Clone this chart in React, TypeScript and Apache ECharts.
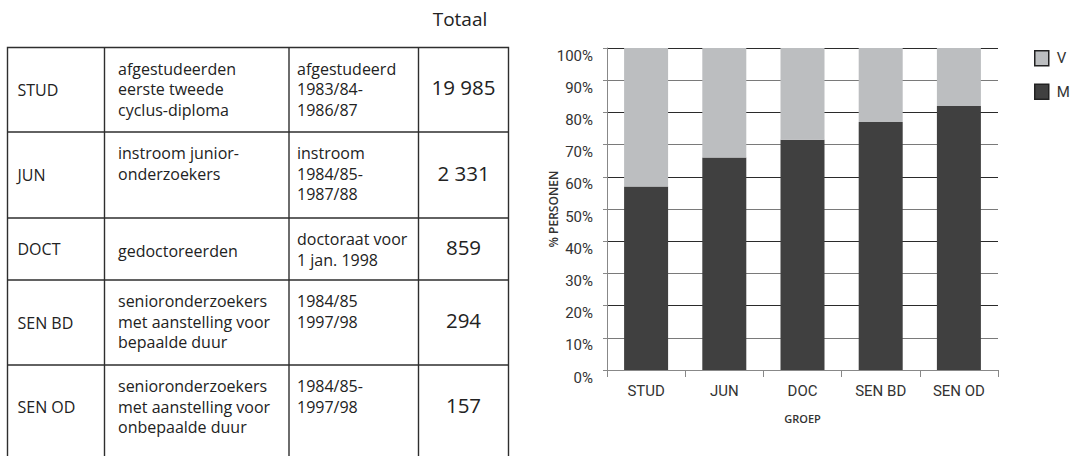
import React, { useEffect, useRef } from "react";
import * as echarts from "echarts";

// ---- Table data ----
const groupCodes = ["STUD", "JUN", "DOCT", "SEN BD", "SEN OD"];
const groupDescriptions = [
  ["afgestudeerden", "eerste tweede", "cyclus-diploma"],
  ["instroom junior-", "onderzoekers"],
  ["gedoctoreerden"],
  ["senioronderzoekers", "met aanstelling voor", "bepaalde duur"],
  ["senioronderzoekers", "met aanstelling voor", "onbepaalde duur"],
];
const groupPeriods = [
  ["afgestudeerd", "1983/84-", "1986/87"],
  ["instroom", "1984/85-", "1987/88"],
  ["doctoraat voor", "1 jan. 1998"],
  ["1984/85", "1997/98"],
  ["1984/85-", "1997/98"],
];
const groupTotals = ["19 985", "2 331", "859", "294", "157"];
const totalHeader = "Totaal";

// ---- Chart data ----
const chartCategories = ["STUD", "JUN", "DOC", "SEN BD", "SEN OD"];
const menShare = [57, 66, 71.5, 77, 82];
const womenShare = [43, 34, 28.5, 23, 18];
const seriesNames = ["V", "M"];
const yAxisTitle = "% PERSONEN";
const xAxisTitle = "GROEP";

// ---- Layout ----
const COL_X = [7.5, 104.5, 289, 418.5, 508.5];
const TABLE_TOP = 47.5;
const ROW_H = [84.5, 86, 62, 85, 84];
const TEXT_FONT = "'Open Sans', 'Noto Sans', sans-serif";
const NARROW_FONT = "Roboto, 'Noto Sans', sans-serif";
const LINE_H = 20.6;
const BORDER = "#2e2e2e";

function buildTable() {
  const els: any[] = [];
  const rowTops: number[] = [];
  let y = TABLE_TOP;
  ROW_H.forEach((h) => {
    rowTops.push(y);
    y += h;
  });
  const tableBottom = 470;
  els.push({
    type: "rect",
    shape: { x: COL_X[0], y: TABLE_TOP, width: COL_X[4] - COL_X[0], height: tableBottom - TABLE_TOP },
    style: { fill: "none", stroke: BORDER, lineWidth: 1.4 },
    silent: true,
  });
  for (let c = 1; c < 4; c++) {
    els.push({
      type: "line",
      shape: { x1: COL_X[c], y1: TABLE_TOP, x2: COL_X[c], y2: tableBottom },
      style: { stroke: BORDER, lineWidth: 1.4 },
      silent: true,
    });
  }
  for (let r = 1; r < rowTops.length; r++) {
    els.push({
      type: "line",
      shape: { x1: COL_X[0], y1: rowTops[r], x2: COL_X[4], y2: rowTops[r] },
      style: { stroke: BORDER, lineWidth: 1.4 },
      silent: true,
    });
  }
  const textEl = (text: string, x: number, yy: number, size: number, align = "left") => ({
    type: "text",
    x,
    y: yy,
    silent: true,
    style: {
      text,
      fill: "#222",
      fontFamily: TEXT_FONT,
      fontSize: size,
      align,
      verticalAlign: "middle",
    },
  });
  const cellLines = (lines: string[], x: number, r: number) => {
    const top = rowTops[r];
    const mid = top + ROW_H[r] / 2;
    if (lines.length === 1) {
      els.push(textEl(lines[0], x, mid + 2, 16));
    } else {
      lines.forEach((ln, i) => els.push(textEl(ln, x, top + 21 + i * LINE_H, 16)));
    }
  };
  groupCodes.forEach((code, r) => {
    const mid = rowTops[r] + ROW_H[r] / 2;
    els.push(textEl(code, 17.5, mid, 16));
    cellLines(groupDescriptions[r], 118, r);
    cellLines(groupPeriods[r], 297, r);
    els.push(textEl(groupTotals[r], (COL_X[3] + COL_X[4]) / 2, mid - 2.5, 20.5, "center"));
  });
  els.push(textEl(totalHeader, 460, 18.5, 19, "center"));
  return els;
}

export default function App() {
  const ref = useRef<HTMLDivElement>(null);
  useEffect(() => {
    if (!ref.current) return;
    const chart = echarts.init(ref.current, null, { renderer: "svg" });
    chart.setOption({
      animation: false,
      backgroundColor: "#ffffff",
      grid: { left: 607, right: 79, top: 48, bottom: 86, containLabel: false },
      legend: {
        data: seriesNames,
        orient: "vertical",
        left: 1029,
        top: 45,
        icon: "rect",
        itemWidth: 14,
        itemHeight: 15,
        itemGap: 17,
        itemStyle: { borderColor: "#222", borderWidth: 1.5 },
        textStyle: { fontFamily: NARROW_FONT, fontSize: 15, color: "#333", padding: [0, 0, 0, 3] },
      },
      xAxis: {
        type: "category",
        data: chartCategories,
        axisLine: { show: true, lineStyle: { color: "#888", width: 1 } },
        axisTick: { show: true, length: 7, lineStyle: { color: "#888" } },
        axisLabel: { fontFamily: NARROW_FONT, fontSize: 15, color: "#333", margin: 13 },
        name: xAxisTitle,
        nameLocation: "middle",
        nameGap: 43,
        nameMoveOverlap: false,
        nameTextStyle: { fontFamily: TEXT_FONT, fontSize: 11, fontWeight: 600, color: "#333" },
      },
      yAxis: {
        type: "value",
        min: 0,
        max: 100,
        interval: 10,
        axisLine: { show: true, lineStyle: { color: "#888", width: 1 } },
        axisTick: { show: true, length: 4, lineStyle: { color: "#888" } },
        axisLabel: {
          formatter: "{value}%",
          fontFamily: NARROW_FONT,
          fontSize: 15,
          color: "#333",
          margin: 14,
          verticalAlign: "top",
        },
        splitLine: { show: true, lineStyle: { color: ["#2b2b2b", "#7a7a7a"], width: 1 } },
        name: yAxisTitle,
        nameLocation: "middle",
        nameGap: 48,
        nameMoveOverlap: false,
        nameTextStyle: { fontFamily: TEXT_FONT, fontSize: 12, fontWeight: 600, color: "#333" },
      },
      series: [
        {
          name: "M",
          type: "bar",
          stack: "total",
          data: menShare,
          barWidth: 44,
          itemStyle: { color: "#404040" },
        },
        {
          name: "V",
          type: "bar",
          stack: "total",
          data: womenShare,
          barWidth: 44,
          itemStyle: { color: "#bcbec0" },
        },
      ],
      graphic: buildTable(),
    });
    return () => chart.dispose();
  }, []);
  return (
    <div
      ref={ref}
      style={{ position: "fixed", left: 0, top: 0, width: 1077, height: 456 }}
    />
  );
}
